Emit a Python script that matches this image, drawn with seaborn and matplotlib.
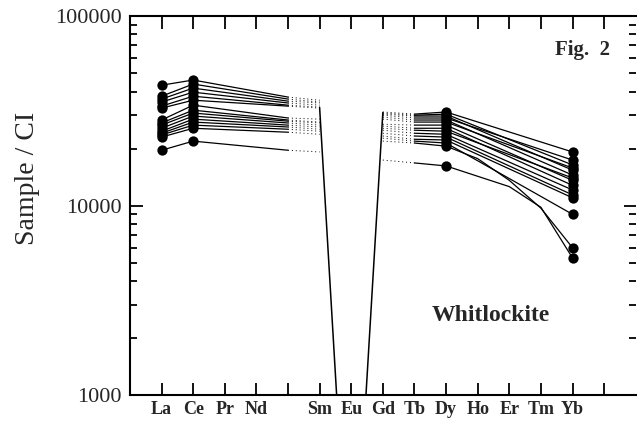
import matplotlib
matplotlib.use("Agg")
import matplotlib.pyplot as plt
import pandas as pd
import numpy as np
import seaborn as sns
from matplotlib.ticker import NullFormatter

sns.set_style("white")
plt.rcParams["font.family"] = ["Liberation Serif", "DejaVu Serif"]

# REE order (Pm and Lu unlabeled)
elements = ["La", "Ce", "Pr", "Nd", "Pm", "Sm", "Eu", "Gd", "Tb", "Dy", "Ho", "Er", "Tm", "Yb", "Lu"]
tick_labels = ["La", "Ce", "Pr", "Nd", "", "Sm", "Eu", "Gd", "Tb", "Dy", "Ho", "Er", "Tm", "Yb", ""]

# sample / CI values (15 whitlockite analyses)
la = [43200, 37800, 36500, 35200, 33500, 32700, 28300, 27300, 26600, 25600, 24700, 24100, 23600, 23000, 19600]
ce = [46000, 43800, 41700, 39700, 37800, 36000, 33900, 31900, 30800, 29700, 28600, 27600, 26600, 25600, 21900]
pm = [37400, 36500, 35600, 34800, 33900, 33500, 29000, 28300, 27900, 27300, 26600, 26000, 25300, 24400, 19600]
sm = [36000, 35200, 34800, 33900, 33100, 32700, 28600, 27600, 27300, 26600, 26000, 25300, 24700, 23800, 19200]
gd = [31200, 30800, 30400, 30000, 29300, 28600, 26900, 26300, 25600, 25000, 24100, 23300, 22700, 21900, 17400]
tb = [30400, 30000, 29700, 29000, 28300, 27600, 26600, 25600, 25000, 24100, 23300, 22400, 21900, 21400, 16800]
dy = [31200, 30400, 29700, 29000, 28300, 27600, 26600, 25600, 24700, 23800, 23000, 22200, 21400, 20600, 16200]
ho = [np.nan] * 13 + [17700, np.nan]
er = [np.nan] * 12 + [13900, 13600, 12600]
tm = [np.nan] * 13 + [9700, 9800]
yb = [19200, 16400, 15400, 17400, 14500, 15800, 13600, 12800, 14000, 12100, 11400, 11000, 9000, 6000, 5300]

# single Eu-anomaly trace
eu_line = {"Sm": 33000, "Eu": 50, "Gd": 31000}

cols = {"La": la, "Ce": ce, "Pm": pm, "Sm": sm, "Gd": gd, "Tb": tb,
        "Dy": dy, "Ho": ho, "Er": er, "Tm": tm, "Yb": yb}
rows = []
for el, vals in cols.items():
    for i, v in enumerate(vals):
        rows.append({"sample": i, "element": el, "pos": elements.index(el), "value": v})
df = pd.DataFrame(rows).dropna()

eu_df = pd.DataFrame({"element": list(eu_line), "value": list(eu_line.values())})
eu_df["pos"] = [elements.index(e) for e in eu_df["element"]]

fig = plt.figure(figsize=(6.37, 4.24), dpi=100)
ax = fig.add_axes([0.204, 0.068, 0.794, 0.894])

def seg(els):
    return df[df["element"].isin(els)]

kw = dict(x="pos", y="value", units="sample", estimator=None, color="black", ax=ax, legend=False)
sns.lineplot(data=seg(["La", "Ce", "Pm"]), lw=0.9, **kw)
sns.lineplot(data=seg(["Pm", "Sm"]), lw=0.7, linestyle=(0, (1, 3)), **kw)
sns.lineplot(data=seg(["Gd", "Tb"]), lw=0.7, linestyle=(0, (1, 3)), **kw)
sns.lineplot(data=seg(["Tb", "Dy", "Ho", "Er", "Tm", "Yb"]), lw=0.9, **kw)
sns.lineplot(data=eu_df, x="pos", y="value", estimator=None, color="black", lw=1.1, ax=ax, legend=False)
sns.scatterplot(data=seg(["La", "Ce", "Dy", "Yb"]), x="pos", y="value", color="black",
                s=55, edgecolor="black", linewidth=0, ax=ax, legend=False, zorder=3)

ax.set_yscale("log")
ax.set_ylim(1000, 100000)
ax.set_xlim(-1, 15)
ax.set_xticks(range(len(elements)), labels=tick_labels)
ax.set_yticks([1000, 10000, 100000], labels=["1000", "10000", "100000"])
ax.yaxis.set_minor_formatter(NullFormatter())

for lab in ax.get_xticklabels():
    lab.set_fontweight("bold")
    lab.set_fontsize(13)
for lab in ax.get_yticklabels():
    lab.set_fontsize(16)

ax.tick_params(axis="x", which="both", direction="in", top=True, bottom=True,
               length=9, width=1.3, pad=4, color="black")
ax.tick_params(axis="y", which="major", direction="in", left=True, right=True,
               length=9, width=1.3, pad=6, color="black")
ax.tick_params(axis="y", which="minor", direction="in", left=True, right=True,
               length=5, width=1.3, color="black")

for side in ["left", "top", "bottom"]:
    ax.spines[side].set_color("black")
    ax.spines[side].set_linewidth(1.5)
ax.spines["right"].set_visible(False)

ax.set_xlabel("")
ax.set_ylabel("Sample / CI", fontsize=20)
ax.yaxis.set_label_coords(-0.178, 0.573)

ax.text(0.949, 0.91, "Fig.  2", transform=ax.transAxes, ha="right", va="center",
        fontsize=15, fontweight="bold")
ax.text(0.713, 0.211, "Whitlockite", transform=ax.transAxes, ha="center", va="center",
        fontsize=17, fontweight="bold")

fig.savefig("out.png", dpi=100, facecolor="white")
